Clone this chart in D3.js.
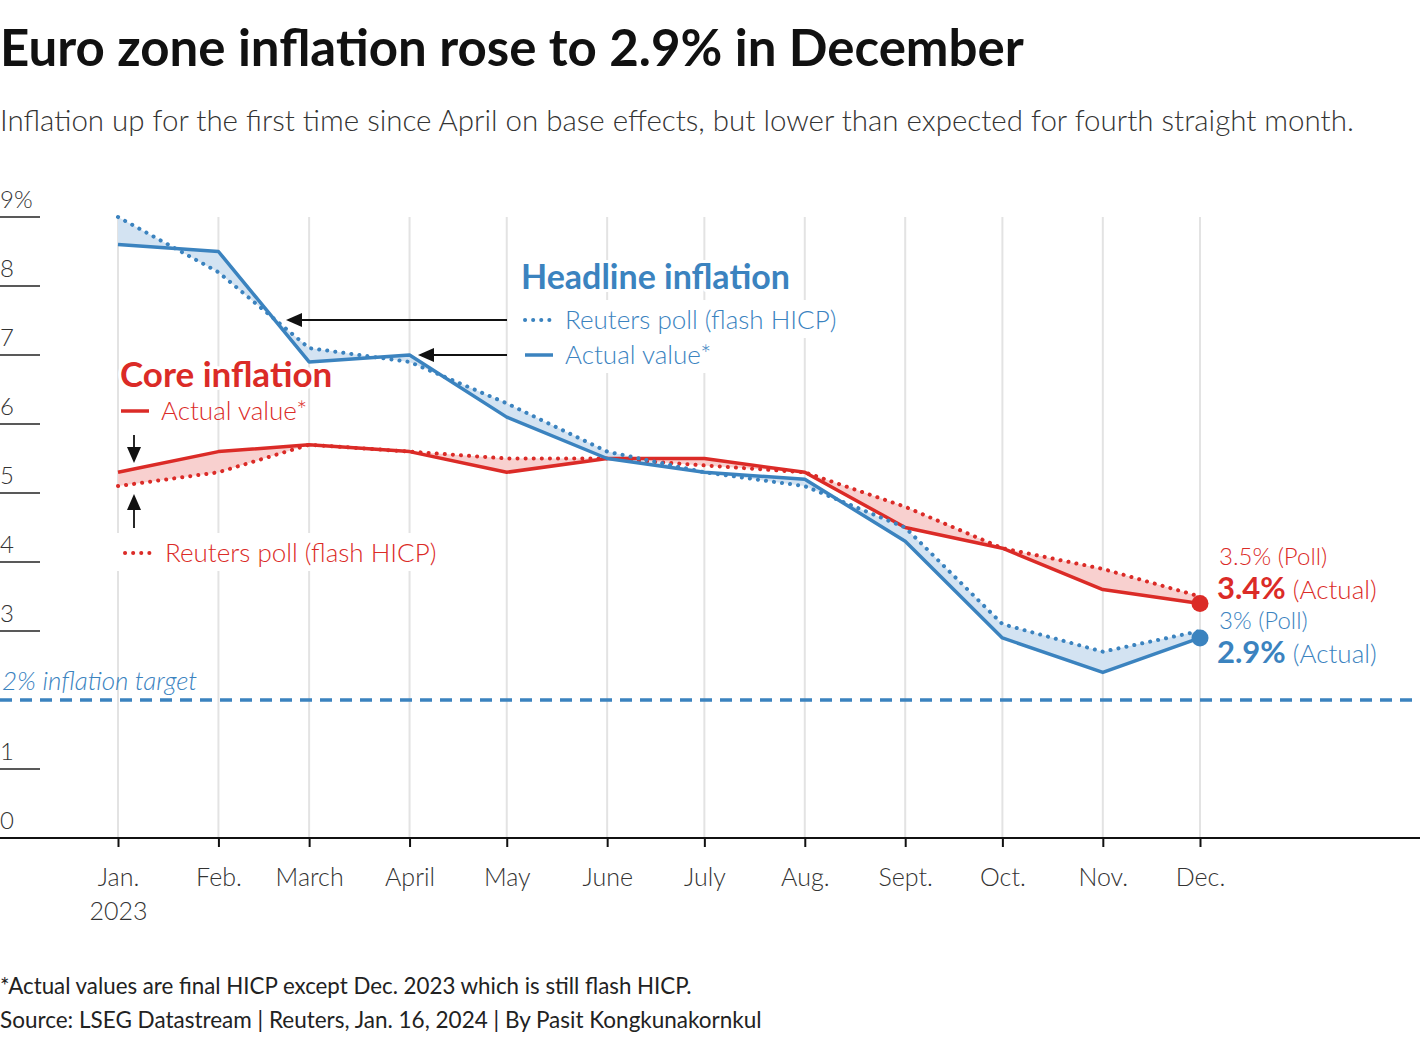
<!DOCTYPE html>
<html>
<head>
<meta charset="utf-8">
<script src="https://cdn.jsdelivr.net/npm/d3@7"></script>
<style>
  body { margin: 0; background: #fff; }
  text { font-family: "Source Sans Pro", Lato, "Noto Sans", sans-serif; }
</style>
</head>
<body>
<svg id="chart" width="1420" height="1040"></svg>
<script>
// months of 2023
var months = ["2023-01-01","2023-02-01","2023-03-01","2023-04-01","2023-05-01","2023-06-01",
              "2023-07-01","2023-08-01","2023-09-01","2023-10-01","2023-11-01","2023-12-01"];
var monthLabels = ["Jan.","Feb.","March","April","May","June","July","Aug.","Sept.","Oct.","Nov.","Dec."];

var headlineActual = [8.6, 8.5, 6.9, 7.0, 6.1, 5.5, 5.3, 5.2, 4.3, 2.9, 2.4, 2.9];
var headlinePoll   = [9.0, 8.2, 7.1, 6.9, 6.3, 5.6, 5.3, 5.1, 4.5, 3.1, 2.7, 3.0];
var coreActual     = [5.3, 5.6, 5.7, 5.6, 5.3, 5.5, 5.5, 5.3, 4.5, 4.2, 3.6, 3.4];
var corePoll       = [5.1, 5.3, 5.7, 5.6, 5.5, 5.5, 5.4, 5.3, 4.8, 4.2, 3.9, 3.5];

var yTicks = [0, 1, 2, 3, 4, 5, 6, 7, 8, 9];
var target = 2;

var BLUE = "#3b83bf", RED = "#db2b27";
var BLUE_FILL = "#d3e3f2", RED_FILL = "#f8d0cf";

var parse = d3.timeParse("%Y-%m-%d");
var dates = months.map(parse);

var svg = d3.select("#chart");

var x = d3.scaleTime()
          .domain([dates[0], dates[dates.length - 1]])
          .range([118, 1200]);
var y = d3.scaleLinear()
          .domain([0, 9])
          .range([838, 217]);

// title
svg.append("text").attr("x", 0).attr("y", 66)
   .style("font-size", "51px").style("font-weight", 700).style("fill", "#111")
   .text("Euro zone inflation rose to 2.9% in December");
svg.append("text").attr("x", 0).attr("y", 131)
   .style("font-size", "29.5px").style("font-weight", 300).style("fill", "#333")
   .text("Inflation up for the first time since April on base effects, but lower than expected for fourth straight month.");

// vertical month grid
svg.append("g").selectAll("line")
   .data(dates).enter().append("line")
   .attr("x1", d => x(d)).attr("x2", d => x(d))
   .attr("y1", y(9)).attr("y2", y(0))
   .attr("stroke", "#e3e3e3").attr("stroke-width", 2);

// y ticks: short lines with labels above
var yg = svg.append("g");
yg.selectAll("line").data(yTicks.filter(d => d > 0 && d !== target)).enter().append("line")
  .attr("x1", 0).attr("x2", 40)
  .attr("y1", d => y(d)).attr("y2", d => y(d))
  .attr("stroke", "#222").attr("stroke-width", 1.5);
yg.selectAll("text").data(yTicks.filter(d => d !== target)).enter().append("text")
  .attr("x", 0).attr("y", d => y(d) - 9)
  .style("font-size", "24px").style("font-weight", 300).style("fill", "#333")
  .text(d => d === 9 ? "9%" : d);

// x axis
var xAxis = d3.axisBottom(x)
              .tickValues(dates)
              .tickSize(9)
              .tickFormat((d, i) => monthLabels[i]);
var xg = svg.append("g")
   .attr("transform", "translate(0," + y(0) + ")")
   .call(xAxis);
xg.select(".domain").remove();
xg.selectAll(".tick line").attr("stroke", "#111").attr("stroke-width", 2);
xg.selectAll(".tick text")
  .attr("y", 48).attr("dy", 0)
  .style("font-family", "\"Source Sans Pro\", Lato, sans-serif")
  .style("font-size", "25px").style("font-weight", 300).style("fill", "#333");
xg.select(".tick text").append("tspan").attr("x", 0).attr("dy", 34).text("2023");
svg.append("line").attr("x1", 0).attr("x2", 1420).attr("y1", y(0)).attr("y2", y(0))
   .attr("stroke", "#111").attr("stroke-width", 2);

// 2% target
svg.append("line").attr("x1", 0).attr("x2", 1420).attr("y1", y(target)).attr("y2", y(target))
   .attr("stroke", BLUE).attr("stroke-width", 3.5).attr("stroke-dasharray", "12,8");
svg.append("text").attr("x", 2).attr("y", y(target) - 10)
   .style("font-size", "26px").style("font-weight", 300).style("font-style", "italic").style("fill", BLUE)
   .text("2% inflation target");

// series
var line = d3.line().x((d, i) => x(dates[i])).y(d => y(d));

function band(poll, actual, fill) {
  var pts = poll.map((v, i) => [x(dates[i]), y(v)])
       .concat(actual.map((v, i) => [x(dates[i]), y(v)]).reverse());
  svg.append("path").attr("d", "M" + pts.join("L") + "Z").attr("fill", fill);
}
function series(poll, actual, color) {
  svg.append("path").attr("d", line(actual)).attr("fill", "none")
     .attr("stroke", color).attr("stroke-width", 3.5).attr("stroke-linejoin", "round");
  svg.append("path").attr("d", line(poll)).attr("fill", "none")
     .attr("stroke", color).attr("stroke-width", 4).attr("stroke-linecap", "round")
     .attr("stroke-dasharray", "0.1,8");
  var last = actual.length - 1;
  svg.append("circle").attr("cx", x(dates[last])).attr("cy", y(actual[last]))
     .attr("r", 8.5).attr("fill", color);
}
band(corePoll, coreActual, RED_FILL);
band(headlinePoll, headlineActual, BLUE_FILL);
series(corePoll, coreActual, RED);
series(headlinePoll, headlineActual, BLUE);

// legends / annotations
function legendRow(gx, gy, color, dotted, label, bg) {
  var g = svg.append("g");
  if (bg) g.append("rect").attr("x", gx - 8).attr("y", gy - 20).attr("width", bg).attr("height", 38).attr("fill", "#fff");
  g.append("line").attr("x1", gx + 2).attr("x2", gx + 30).attr("y1", gy).attr("y2", gy)
   .attr("stroke", color).attr("stroke-width", dotted ? 4 : 3.5)
   .attr("stroke-linecap", dotted ? "round" : "butt")
   .attr("stroke-dasharray", dotted ? "0.1,8" : null);
  g.append("text").attr("x", gx + 42).attr("y", gy + 9)
   .style("font-size", "26px").style("font-weight", 300).style("fill", color)
   .text(label);
}
function halo(sel) {
  return sel.attr("stroke", "#fff").attr("stroke-width", 6).attr("paint-order", "stroke").attr("stroke-linejoin", "round");
}

halo(svg.append("text").attr("x", 521).attr("y", 289)
   .style("font-size", "34px").style("font-weight", 700).style("fill", BLUE)
   .text("Headline inflation"));
legendRow(523, 320, BLUE, true, "Reuters poll (flash HICP)", 325);
legendRow(523, 355, BLUE, false, "Actual value*", 195);

halo(svg.append("text").attr("x", 120).attr("y", 387)
   .style("font-size", "35px").style("font-weight", 700).style("fill", RED)
   .text("Core inflation"));
legendRow(119, 411, RED, false, "Actual value*", 0);
legendRow(123, 553, RED, true, "Reuters poll (flash HICP)", 325);

// arrows
function arrow(x1, y1, x2, y2) {
  var ang = Math.atan2(y2 - y1, x2 - x1), L = 16, W = 7;
  var bx = x2 - L * Math.cos(ang), by = y2 - L * Math.sin(ang);
  svg.append("line").attr("x1", x1).attr("y1", y1).attr("x2", bx).attr("y2", by)
     .attr("stroke", "#111").attr("stroke-width", 1.8);
  svg.append("path")
     .attr("d", "M" + x2 + "," + y2 +
                "L" + (bx + W * Math.sin(ang)) + "," + (by - W * Math.cos(ang)) +
                "L" + (bx - W * Math.sin(ang)) + "," + (by + W * Math.cos(ang)) + "Z")
     .attr("fill", "#111");
}
arrow(507, 320, 286, 320);
arrow(507, 355, 418, 355);
arrow(134, 435, 134, 463);
arrow(134, 528, 134, 494);

// end labels
var last = months.length - 1;
function endLabel(yy, poll, actual, color) {
  svg.append("text").attr("x", 1219).attr("y", yy)
     .style("font-size", "24px").style("font-weight", 300).style("fill", color)
     .text(d3.format("~")(poll) + "% (Poll)");
  var t = svg.append("text").attr("x", 1217).attr("y", yy + 34).style("fill", color);
  t.append("tspan").style("font-size", "31px").style("font-weight", 700).text(actual + "%");
  t.append("tspan").style("font-size", "26px").style("font-weight", 300).text(" (Actual)");
}
endLabel(565, corePoll[last], coreActual[last], RED);
endLabel(629, headlinePoll[last], headlineActual[last], BLUE);

// footer
svg.append("text").attr("x", 0).attr("y", 994)
   .style("font-size", "22.3px").style("fill", "#222")
   .text("*Actual values are final HICP except Dec. 2023 which is still flash HICP.");
svg.append("text").attr("x", 0).attr("y", 1028)
   .style("font-size", "22.5px").style("fill", "#222")
   .text("Source: LSEG Datastream | Reuters, Jan. 16, 2024 | By Pasit Kongkunakornkul");
</script>
</body>
</html>
